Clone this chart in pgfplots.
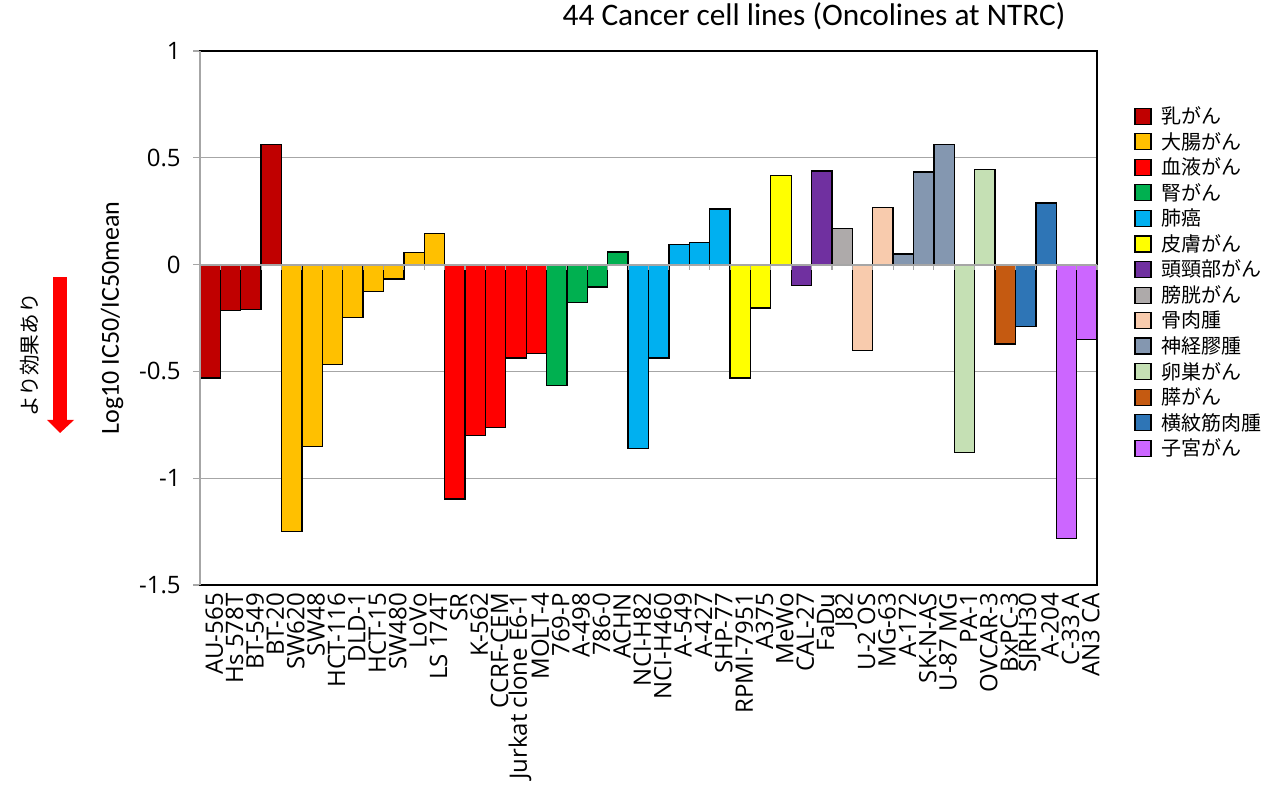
\documentclass[border=0pt]{standalone}
\usepackage{fontspec}
\setmainfont{Carlito}
\newfontfamily\tickfont{Open Sans}
\newfontfamily\jp{Noto Sans CJK JP}
\usepackage{pgfplots}
\pgfplotsset{compat=1.18}
\definecolor{c1}{HTML}{C00000}
\definecolor{c2}{HTML}{FFC000}
\definecolor{c3}{HTML}{FF0000}
\definecolor{c4}{HTML}{00B050}
\definecolor{c5}{HTML}{00B0F0}
\definecolor{c6}{HTML}{FFFF00}
\definecolor{c7}{HTML}{7030A0}
\definecolor{c8}{HTML}{AEAAAA}
\definecolor{c9}{HTML}{F8CBAD}
\definecolor{c10}{HTML}{8497B0}
\definecolor{c11}{HTML}{C5E0B4}
\definecolor{c12}{HTML}{C55A11}
\definecolor{c13}{HTML}{2E75B6}
\definecolor{c14}{HTML}{CC66FF}
\definecolor{gridgray}{HTML}{A6A6A6}
\begin{document}
\begin{tikzpicture}
\useasboundingbox (0,0) rectangle (952.5pt,589.5pt);
% arrow and its note
\fill[red] (39.75pt,381.75pt) rectangle (50.25pt,274.5pt);
\fill[red] (35.25pt,274.5pt) -- (55.5pt,274.5pt) -- (45pt,264.75pt) -- cycle;
\node[rotate=90, font=\jp\fontsize{15.5}{15.5}\selectfont] at (22.5pt,323.25pt) {より効果あり};
\begin{axis}[
  at={(150pt,150.75pt)}, anchor=south west,
  scale only axis, width=672.75pt, height=400.5pt,
  xmin=-0.5, xmax=43.5, ymin=-1.5, ymax=1,
  ybar, bar width=1, bar shift=0pt,
  axis line style={black, line width=1pt},
  xtick={0,...,43},
  xticklabels={AU-565,Hs 578T,BT-549,BT-20,SW620,SW48,HCT-116,DLD-1,HCT-15,SW480,LoVo,LS 174T,SR,K-562,CCRF-CEM,Jurkat clone E6-1,MOLT-4,769-P,A-498,786-0,ACHN,NCI-H82,NCI-H460,A-549,A-427,SHP-77,RPMI-7951,A375,MeWo,CAL-27,FaDu,J82,U-2 OS,MG-63,A-172,SK-N-AS,U-87 MG,PA-1,OVCAR-3,BxPC-3,SJRH30,A-204,C-33 A,AN3 CA},
  xtick style={draw=none},
  xticklabel style={rotate=90, anchor=east, font=\tickfont\fontsize{18}{18}\selectfont, yshift=-3pt, inner sep=1pt},
  ytick={-1.5,-1,-0.5,0,0.5,1},
  yticklabels={-1.5,-1,-0.5,0,0.5,1},
  ytick pos=left,
  tick align=outside, major tick length=5pt,
  ytick style={gridgray, line width=1pt},
  yticklabel style={font=\tickfont\fontsize{18}{18}\selectfont, xshift=-6pt},
  ymajorgrids, grid style={gridgray, line width=1pt},
  ylabel={Log10 IC50/IC50mean},
  ylabel style={at={(axis description cs:-0.098,0.5)}, anchor=center, font=\fontsize{19.5}{19.5}\selectfont},
  title={44 Cancer cell lines (Oncolines at NTRC)},
  title style={at={(axis description cs:0.6845,1.0506)}, anchor=center, yshift=0pt, font=\fontsize{23.5}{23.5}\selectfont},
  every axis plot/.append style={draw=black, line width=1pt},
  legend image code/.code={\draw[#1, draw=black, line width=0.9pt] (0pt,-6pt) rectangle (12pt,6pt);},
  legend cell align=left,
  legend style={at={(1.037,0.905)}, anchor=north west, draw=none, fill=none,
    font=\jp\fontsize{15}{15}\selectfont, row sep=2pt,
    nodes={inner sep=1.5pt},
    /tikz/every odd column/.append style={column sep=6pt}},
  after end axis/.code={
    \draw[gridgray, line width=1.5pt] (axis cs:-0.5,0) -- (axis cs:43.5,0);
    \foreach \k in {0,...,44} {\draw[gridgray, line width=0.8pt] (axis cs:\k-0.5,0) -- ++(0,-4pt);}
    \draw[gridgray, line width=1.2pt] (rel axis cs:0,0) -- (rel axis cs:0,1);
  },
]
\addplot[fill=c1] coordinates {(0,-0.531) (1,-0.214) (2,-0.211) (3,0.5625)};
\addplot[fill=c2] coordinates {(4,-1.25) (5,-0.852) (6,-0.469) (7,-0.247) (8,-0.125) (9,-0.067) (10,0.058) (11,0.145)};
\addplot[fill=c3] coordinates {(12,-1.097) (13,-0.80) (14,-0.763) (15,-0.4375) (16,-0.417)};
\addplot[fill=c4] coordinates {(17,-0.567) (18,-0.178) (19,-0.105) (20,0.059)};
\addplot[fill=c5] coordinates {(21,-0.86) (22,-0.4375) (23,0.094) (24,0.105) (25,0.261)};
\addplot[fill=c6] coordinates {(26,-0.531) (27,-0.203) (28,0.417)};
\addplot[fill=c7] coordinates {(29,-0.097) (30,0.4375)};
\addplot[fill=c8] coordinates {(31,0.169)};
\addplot[fill=c9] coordinates {(32,-0.402) (33,0.267)};
\addplot[fill=c10] coordinates {(34,0.05) (35,0.434) (36,0.5625)};
\addplot[fill=c11] coordinates {(37,-0.88) (38,0.445)};
\addplot[fill=c12] coordinates {(39,-0.372)};
\addplot[fill=c13] coordinates {(40,-0.289) (41,0.289)};
\addplot[fill=c14] coordinates {(42,-1.281) (43,-0.352)};
\legend{乳がん,大腸がん,血液がん,腎がん,肺癌,皮膚がん,頭頸部がん,膀胱がん,骨肉腫,神経膠腫,卵巣がん,膵がん,横紋筋肉腫,子宮がん}
\end{axis}
\end{tikzpicture}
\end{document}
